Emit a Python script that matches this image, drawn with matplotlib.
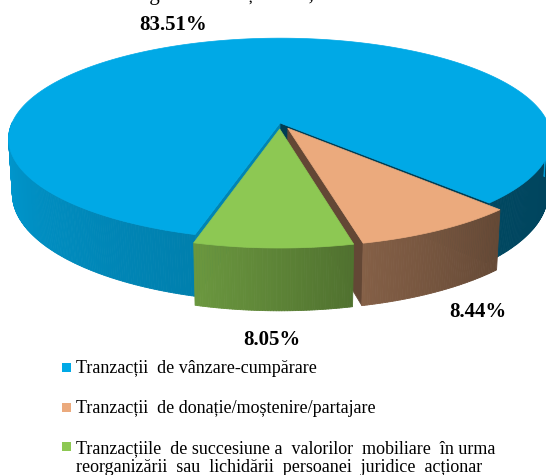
import numpy as np
import matplotlib.pyplot as plt
from matplotlib.collections import PolyCollection
from matplotlib.patches import Polygon, Rectangle

plt.rcParams['font.family'] = ['Liberation Serif', 'DejaVu Serif']

# data
categories = ['Tranzacții  de vânzare-cumpărare',
              'Tranzacții  de donație/moștenire/partajare',
              'Tranzacțiile  de succesiune a  valorilor  mobiliare  în urma\n'
              'reorganizării  sau  lichidării  persoanei  juridice  acționar']
shares = [83.51, 8.44, 8.05]
pct_labels = ['83.51%', '8.44%', '8.05%']
title = 'reglementate și MTS, noiembrie 2023'

colors = [(0/255, 169/255, 230/255), (235/255, 170/255, 125/255), (141/255, 200/255, 83/255)]
explode = [0.0, 0.06, 0.06]
start_angle = 254.4          # slices go clockwise from here
radial_shade = [(0.36, 0.78), (0.42, 0.42), (0.55, 0.55)]   # (start edge, end edge)
label_r = [1.25, 1.14, 1.14]
label_nudge = [(-38, 2), (16, 2), (-1, 8)]

# fake 3d projection, pixel coords
cx, cy, R = 280, 123, 268
phi = np.radians(21.5)
D = 5.9
H = 0.22


def proj(X, Y, z):
    v = Y * np.sin(phi) - z * np.cos(phi)
    d = Y * np.cos(phi) + z * np.sin(phi)
    s = 1 / (1 + d / D)
    return cx + R * X * s, cy - R * v * s


def wall_shade(t):
    t = np.degrees(t) % 360
    return np.interp(t, [180, 256, 286, 316, 360], [0.92, 0.75, 0.55, 0.42, 0.40])


def darker(c, f):
    return tuple(min(1, v * f) for v in c)


fig = plt.figure(figsize=(5.46, 4.75), dpi=100)
ax = fig.add_axes([0, 0, 1, 1])
ax.set_xlim(0, 546)
ax.set_ylim(475, 0)
ax.axis('off')

# angle ranges (ccw degrees)
total = sum(shares)
ranges = []
a = start_angle
for v in shares:
    span = v / total * 360
    ranges.append((a - span, a))
    a -= span

for i in [0, 1, 2]:
    a0, a1 = ranges[i]
    mid = np.radians((a0 + a1) / 2)
    ox, oy = explode[i] * np.cos(mid), explode[i] * np.sin(mid)
    th = np.radians(np.linspace(a0, a1, int(abs(a1 - a0) * 2) + 2))
    col = colors[i]

    # radial walls
    for k, (ang, nrm) in enumerate([(a0, a0 - 90), (a1, a1 + 90)]):
        if np.sin(np.radians(nrm)) < 0:
            t = np.radians(ang)
            pts = [proj(ox, oy, 0), proj(ox + np.cos(t), oy + np.sin(t), 0),
                   proj(ox + np.cos(t), oy + np.sin(t), H), proj(ox, oy, H)]
            c = darker(col, radial_shade[i][k])
            ax.add_patch(Polygon(pts, closed=True, fc=c, ec=c, lw=0.5))

    # outer wall, only front facing part
    quads, fcs = [], []
    for t0, t1 in zip(th[:-1], th[1:]):
        tm = (t0 + t1) / 2
        if np.sin(tm) < 0.01:
            quads.append([proj(ox + np.cos(t0), oy + np.sin(t0), 0),
                          proj(ox + np.cos(t1), oy + np.sin(t1), 0),
                          proj(ox + np.cos(t1), oy + np.sin(t1), H),
                          proj(ox + np.cos(t0), oy + np.sin(t0), H)])
            fcs.append(darker(col, wall_shade(tm)))
    if quads:
        ax.add_collection(PolyCollection(quads, facecolors=fcs, edgecolors=fcs, linewidths=0.6))

    # top face
    top = [proj(ox, oy, 0)] + [proj(ox + np.cos(t), oy + np.sin(t), 0) for t in th]
    ax.add_patch(Polygon(top, closed=True, fc=col, ec=col, lw=0.5))

    # value label
    r = label_r[i] + explode[i]
    z = 0 if i == 0 else H
    lx, ly = proj(r * np.cos(mid), r * np.sin(mid), z)
    ax.text(lx + label_nudge[i][0], ly + label_nudge[i][1], pct_labels[i],
            ha='center', va='center', fontsize=15, fontweight='bold')

# title, cut by the top edge like in the source
ax.text(292, 0.2, title, ha='center', va='baseline', fontsize=15)

# legend
leg_y = [373, 413, 452]
for y, cat, col in zip(leg_y, categories, colors):
    n = cat.count('\n')
    ax.add_patch(Rectangle((62, y - 10), 8.5, 8.5, fc=col, ec='none'))
    ax.text(76, y + 20 * n, cat, ha='left', va='baseline', fontsize=13, linespacing=1.15)

fig.savefig('out.png', dpi=100)
